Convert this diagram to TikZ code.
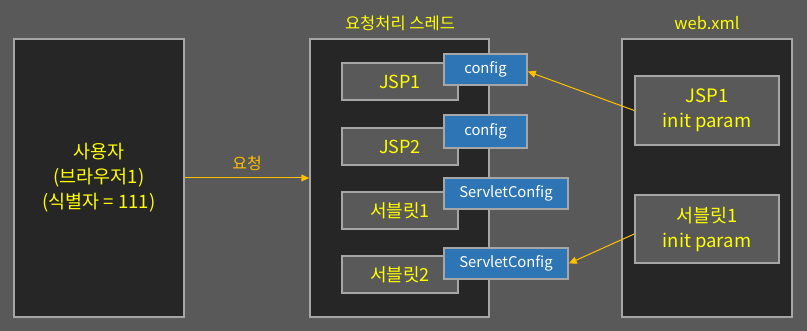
\documentclass[tikz,border=0pt]{standalone}
\usepackage{fontspec}
\newfontfamily\krfont{Noto Sans CJK KR}
\usepackage{tikz}
\usetikzlibrary{positioning, arrows.meta, calc}

\definecolor{bgGray}{HTML}{595959}
\definecolor{boxDark}{HTML}{262626}
\definecolor{boxLine}{HTML}{A6A6A6}
\definecolor{cfgBlue}{HTML}{2E75B6}
\definecolor{txtYellow}{HTML}{FFFF00}
\definecolor{reqGold}{HTML}{FFC000}

\begin{document}
\begin{tikzpicture}[x=1pt, y=-1pt, font=\krfont,
    outerbox/.style={draw=boxLine, fill=boxDark, line width=1.5pt, minimum width=170pt, minimum height=278pt,
      text=txtYellow, font=\krfont\fontsize{18.5}{25}\selectfont, align=center, inner sep=0pt},
    unitbox/.style={draw=boxLine, fill=bgGray, line width=1.5pt, minimum width=116pt, minimum height=37pt,
      text=txtYellow, font=\krfont\fontsize{18}{22}\selectfont, inner sep=0pt},
    cfgbox/.style={draw=boxLine, fill=cfgBlue, line width=1.5pt, minimum height=31pt,
      text=white, font=\krfont\fontsize{14.8}{18}\selectfont, inner sep=0pt},
    parambox/.style={draw=boxLine, fill=bgGray, line width=1.5pt, minimum width=144pt, minimum height=68pt,
      text=txtYellow, font=\krfont\fontsize{18.5}{25}\selectfont, align=center, inner sep=0pt},
    reqarrow/.style={draw=reqGold, line width=1pt, -{Triangle[length=8pt, width=7pt]}},
    title/.style={text=txtYellow, font=\krfont\fontsize{16.5}{18}\selectfont},
  ]
  % canvas
  \fill[bgGray] (0,0) rectangle (807,331);
  \useasboundingbox (0,0) rectangle (807,331);

  % three columns
  \node[outerbox] (user) at (99,178) {사용자\\(브라우저1)\\(식별자 = 111)};
  \node[outerbox, minimum width=179pt] (thread) at (399.5,178) {};
  \node[outerbox] (webxml) at (707,178) {};
  \node[title] (threadTitle) at (400,23) {요청처리 스레드};
  \node[title] (webTitle) at (707,23) {web.xml};

  % JSP / servlet units inside the thread
  \node[unitbox] (jspA) at (400,81.5) {JSP1};
  \node[unitbox] (jspB) at (400,146.5) {JSP2};
  \node[unitbox] (svA) at (400,210.5) {서블릿1};
  \node[unitbox] (svB) at (400,274.5) {서블릿2};

  % config objects
  \node[cfgbox, minimum width=83pt] (cfgA) at (485.5,69.5) {config};
  \node[cfgbox, minimum width=83pt, minimum height=33pt] (cfgB) at (485.5,131.5) {config};
  \node[cfgbox, minimum width=124pt] (scA) at (506,193.5) {ServletConfig};
  \node[cfgbox, minimum width=124pt] (scB) at (506,263.5) {ServletConfig};

  % init params in web.xml
  \node[parambox, minimum height=69pt] (jspParam) at (707,110.5) {JSP1\\init param};
  \node[parambox] (svParam) at (707,229) {서블릿1\\init param};

  % request and param links
  \draw[reqarrow] (user.east) -- node[above=3pt, text=reqGold, font=\krfont\fontsize{16}{18}\selectfont] (reqLabel) {요청} (thread.west);
  \draw[reqarrow] (jspParam.west) -- ([yshift=-2pt]cfgA.east);
  \draw[reqarrow] ([yshift=-5pt]svParam.west) -- (scB.east);
\end{tikzpicture}
\end{document}
